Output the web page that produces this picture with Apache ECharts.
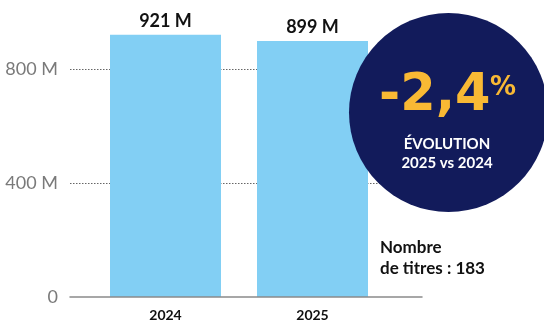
<!DOCTYPE html>
<html><head><meta charset="utf-8">
<script src="https://cdn.jsdelivr.net/npm/echarts@6/dist/echarts.min.js"></script>
<style>html,body{margin:0;padding:0;background:#fff}#c{width:544px;height:320px}</style>
</head><body><div id="c"></div>
<script>
var categories = ['2024', '2025'];
var values = [921, 899];
var valueLabels = ['921 M', '899 M'];
var yTicks = [0, 400, 800];
var evolution = '-2,4';
var evolutionUnit = '%';
var evolutionCaption = ['ÉVOLUTION', '2025 vs 2024'];
var noteLines = ['Nombre', 'de titres : 183'];

var chart = echarts.init(document.getElementById('c'));
var FONT = 'Lato, "Noto Sans", sans-serif';
var top0 = 297 - 1000 * (227.7 / 800);
chart.setOption({
  animation: false,
  grid: [
    {left: 70, right: 122, top: top0, bottom: 23, containLabel: false, outerBoundsMode: 'none'},
    {left: 92, right: 158, top: top0, bottom: 23, containLabel: false, outerBoundsMode: 'none'}
  ],
  xAxis: [
    {gridIndex: 0, type: 'category', data: [''], axisTick: {show: false}, axisLabel: {show: false},
     axisLine: {lineStyle: {color: '#8a8a8a', width: 1.5}}, z: 5},
    {gridIndex: 1, type: 'category', data: categories, axisTick: {show: false}, axisLine: {show: false},
     axisLabel: {margin: 11, color: '#111', fontFamily: FONT, fontWeight: 'bold', fontSize: 14}}
  ],
  yAxis: [
    {gridIndex: 0, type: 'value', min: 0, max: 1000, interval: 400,
     axisLine: {show: false}, axisTick: {show: false},
     axisLabel: {margin: 12, color: '#7a7a7a', fontFamily: FONT, fontSize: 18, showMaxLabel: false,
       formatter: function (v) { return yTicks.indexOf(v) < 0 ? '' : (v === 0 ? '0' : v + ' M'); }},
     splitLine: {show: true, showMaxLine: false, showMinLine: false, lineStyle: {type: [1.5, 1.5], color: '#666', width: 1}}},
    {gridIndex: 1, type: 'value', min: 0, max: 1000, show: false}
  ],
  series: [{
    type: 'bar', xAxisIndex: 1, yAxisIndex: 1, barWidth: 111,
    data: values,
    itemStyle: {color: '#82CFF4'},
    label: {show: true, position: 'top', distance: 5, color: '#111', fontFamily: FONT, fontWeight: 'bold', fontSize: 18,
      formatter: function (p) { return valueLabels[p.dataIndex]; }},
    z: 2
  }],
  graphic: [
    {type: 'circle', shape: {cx: 448.5, cy: 112.5, r: 99.5}, style: {fill: '#121B5B'}, z: 10},
    {type: 'text', x: 379, y: 97, z: 11, style: {text: evolution, fill: '#F9B934', font: 'bold 51px "DejaVu Sans"', align: 'left', verticalAlign: 'middle'}},
    {type: 'text', x: 490, y: 88, z: 11, style: {text: evolutionUnit, fill: '#F9B934', font: 'bold 26px "DejaVu Sans"', align: 'left', verticalAlign: 'middle'}},
    {type: 'text', x: 447, y: 144, z: 11, style: {text: evolutionCaption[0], fill: '#fff', font: 'bold 15px Lato', align: 'center', verticalAlign: 'middle'}},
    {type: 'text', x: 447, y: 163, z: 11, style: {text: evolutionCaption[1], fill: '#fff', font: 'bold 15px Lato', align: 'center', verticalAlign: 'middle'}},
    {type: 'text', x: 380, y: 248, z: 11, style: {text: noteLines[0], fill: '#111', font: 'bold 17px Lato', align: 'left', verticalAlign: 'middle'}},
    {type: 'text', x: 380, y: 269, z: 11, style: {text: noteLines[1], fill: '#111', font: 'bold 17px Lato', align: 'left', verticalAlign: 'middle'}}
  ]
});
</script></body></html>
